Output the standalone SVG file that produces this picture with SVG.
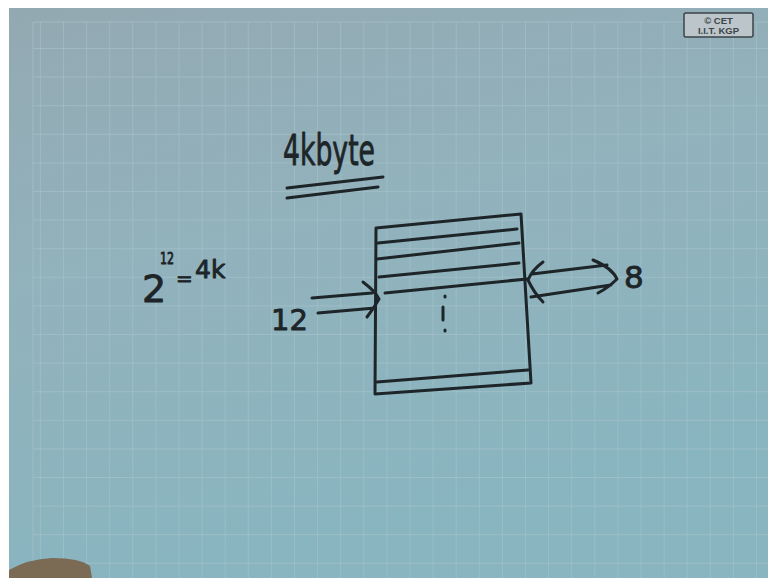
<svg xmlns="http://www.w3.org/2000/svg" width="768" height="578" viewBox="0 0 768 578">
  <defs>
    <linearGradient id="board" x1="0" y1="0" x2="0.3" y2="1">
      <stop offset="0" stop-color="#93a9b2"/>
      <stop offset="0.45" stop-color="#92b2bc"/>
      <stop offset="1" stop-color="#88b5c0"/>
    </linearGradient>
    <pattern id="grid" x="63" y="48" width="23.1" height="28.6" patternUnits="userSpaceOnUse">
      <path d="M0 0V28.6M0 0H23.1" fill="none" stroke="#aac5cd" stroke-width="1.3" opacity="0.75"/>
    </pattern>
    <style>
      .ink { fill: none; stroke: #1d2529; stroke-width: 3; stroke-linecap: round; stroke-linejoin: round; }
      .txt { fill: #1d2529; stroke: #1d2529; stroke-width: 0.9; stroke-linejoin: round; font-family: "DejaVu Sans", "Liberation Sans", sans-serif; }
      .mark { fill: #3b4448; font-family: "Liberation Sans", sans-serif; font-size: 9.5px; font-weight: bold; text-anchor: middle; }
    </style>
  </defs>

  <!-- paper margin and board -->
  <rect width="768" height="578" fill="#ffffff"/>
  <rect x="9" y="8" width="759" height="570" fill="url(#board)"/>
  <rect x="33" y="22" width="735" height="556" fill="url(#grid)"/>
  <path d="M33 22V578M33 22H768" fill="none" stroke="#a2bcc5" stroke-width="1.5" opacity="0.6"/>

  <!-- title -->
  <g id="title">
    <text class="txt" x="283" y="165" font-size="42" textLength="92" lengthAdjust="spacingAndGlyphs">4kbyte</text>
    <path class="ink" d="M287 188L383 177M287 198L378 187"/>
  </g>

  <!-- equation -->
  <g id="equation">
    <text class="txt" x="142" y="302" font-size="38">2</text>
    <text class="txt" x="160" y="264" font-size="15" textLength="14" lengthAdjust="spacingAndGlyphs">12</text>
    <text class="txt" x="176" y="285" font-size="20">=</text>
    <text class="txt" x="195" y="278" font-size="25">4k</text>
  </g>

  <!-- memory array -->
  <g id="memory">
    <path class="ink" d="M376 228L521 214L531 383L375 394Z"/>
    <path class="ink" d="M378 243L517 229M377 259L519 243M379 277L519 263M385 293L527 279M377 382L528 370"/>
    <path class="ink" d="M445 296V297M443 307V320M445 330V331" stroke-width="2.5"/>
  </g>

  <!-- address input label -->
  <g id="address">
    <text class="txt" x="271" y="330" font-size="29">12</text>
  </g>

  <!-- data output label -->
  <g id="data">
    <text class="txt" x="624" y="288" font-size="31">8</text>
  </g>

  <!-- buses -->
  <g id="connectors">
    <path class="ink" d="M312 298L372 293M318 313L375 308M363 282Q376 292 379 299Q374 308 367 317"/>
    <path class="ink" d="M532 274L607 265M531 297L611 285M543 262Q532 270 528 280Q534 293 543 302M593 260Q612 268 617 279Q608 288 598 293"/>
  </g>

  <!-- corner mark -->
  <g id="logo">
    <rect x="684" y="13" width="69" height="24" rx="2" fill="#bcc6ca" stroke="#3b4448" stroke-width="1.5"/>
    <text class="mark" x="718.5" y="23.5">© CET</text>
    <text class="mark" x="718.5" y="33.5">I.I.T. KGP</text>
  </g>

  <!-- fingertip at lower edge -->
  <path d="M9 570Q28 559 52 558Q80 558 90 566L92 578H9Z" fill="#7b6a54"/>
</svg>
